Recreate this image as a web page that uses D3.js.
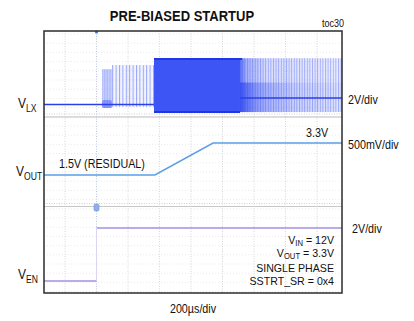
<!DOCTYPE html>
<html><head><meta charset="utf-8">
<script src="https://cdn.jsdelivr.net/npm/d3@7"></script>
<style>html,body{margin:0;padding:0;background:#fff;} svg{display:block;font-family:"Liberation Sans",Arial,sans-serif;}</style>
</head><body><svg id="c" width="414" height="321"></svg>
<script>
// ---------- data ----------
const timeDomain = [-400, 1600];            // µs, trigger at 0, 200 µs/div
const gridTimes  = [-200, 0, 200, 400, 600, 800, 1000, 1200, 1400];
// VLX switching bursts (V)
const lxBurstStart = [35, 98, 365, 911];
const lxBurstEnd   = [98, 365, 911, 1600];
const lxBurstHigh  = [9.3, 10.4, 12.0, 12.2];
const lxBurstLow   = [-0.9, -0.6, -2.0, -2.0];
// VLX quiet trace (two pieces: before and after the dense block)
const lxBaseT = [-400, 365, 911, 1600];
const lxBaseV = [0, 0, 1.7, 1.7];
// VOUT (V)
const outT = [-400, 371, 740, 1600];
const outV = [1.5, 1.5, 3.3, 3.3];
// VEN (V)
const enT = [-400, 0, 0, 1600];
const enV = [0, 0, 3.3, 3.3];

// ---------- layout ----------
const svg = d3.select("#c");
const L = 44, R = 342, T = 31, B = 293;
const x = d3.scaleLinear().domain(timeDomain).range([33.5, 348.5]);
const yLX  = d3.scaleLinear().domain([0, 12]).range([104.5, 59]);
const yOut = d3.scaleLinear().domain([1.5, 3.3]).range([175, 143]);
const yEn  = d3.scaleLinear().domain([0, 3.3]).range([281, 228]);

const defs = svg.append("defs");
defs.append("clipPath").attr("id", "clip").append("rect")
  .attr("x", L).attr("y", T).attr("width", R - L).attr("height", B - T);
function linePattern(id, w, color, op) {
  const p = defs.append("pattern").attr("id", id).attr("patternUnits", "userSpaceOnUse")
    .attr("width", w).attr("height", 10);
  p.append("rect").attr("x", 0).attr("y", 0).attr("width", 1).attr("height", 10)
    .attr("fill", color).attr("fill-opacity", op);
}
linePattern("pSparse", 3.4, "#4a62f2", 0.55);
linePattern("pFade", 2.6, "#4a62f2", 0.45);
linePattern("pBurst1", 1.6, "#6c82f5", 0.35);
const gFade = defs.append("linearGradient").attr("id", "gFade");
[[0, 0.85], [0.06, 0.45], [0.25, 0.18], [1, 0.08]].forEach(([o, a]) =>
  gFade.append("stop").attr("offset", o).attr("stop-color", "#3d55f5").attr("stop-opacity", a));
const gLow = defs.append("linearGradient").attr("id", "gLow");
[[0, 0.75], [0.15, 0.35], [0.5, 0.12], [1, 0.05]].forEach(([o, a]) =>
  gLow.append("stop").attr("offset", o).attr("stop-color", "#2f48f0").attr("stop-opacity", a));

const plot = svg.append("g").attr("clip-path", "url(#clip)");

// faint scope grid
const hRows = d3.range(T + 3, B, 9.2);
plot.selectAll("line.h").data(hRows).enter().append("line")
  .attr("x1", L).attr("x2", R).attr("y1", d => d).attr("y2", d => d)
  .attr("stroke", "#ebebeb").attr("stroke-width", 1).attr("stroke-dasharray", "1,2");
plot.selectAll("line.v").data(gridTimes).enter().append("line")
  .attr("x1", d => x(d)).attr("x2", d => x(d)).attr("y1", T).attr("y2", B)
  .attr("stroke", d => d === 0 ? "#b9c4dc" : "#d6d6d6").attr("stroke-width", 1)
  .attr("stroke-dasharray", "1,1.5");
// panel separators
[[114, "#cfcfcf", "1,1.5"], [117, "#bdbdbd", null], [203.5, "#cfcfcf", "1,1.5"], [206.5, "#c8c8c8", null]]
  .forEach(([yy, c, da]) => plot.append("line").attr("x1", L).attr("x2", R).attr("y1", yy).attr("y2", yy)
    .attr("stroke", c).attr("stroke-width", 1).attr("stroke-dasharray", da));

// ---------- VLX ----------
const bursts = lxBurstStart.map((s, i) => ({ s, e: lxBurstEnd[i], hi: lxBurstHigh[i], lo: lxBurstLow[i] }));
const bx = d => x(d.s), bw = d => x(d.e) - x(d.s), by = d => yLX(d.hi), bh = d => yLX(d.lo) - yLX(d.hi);
const fills = ["rgba(90,110,250,0.28)", "rgba(90,110,250,0.08)", "#3d55f5", "url(#gFade)"];
plot.selectAll("rect.burst").data(bursts).enter().append("rect")
  .attr("x", bx).attr("y", by).attr("width", bw).attr("height", bh)
  .attr("fill", (d, i) => fills[i]);
const overlays = ["url(#pBurst1)", "url(#pSparse)", null, "url(#pFade)"];
plot.selectAll("rect.ov").data(bursts).enter().append("rect")
  .attr("x", bx).attr("y", by).attr("width", bw).attr("height", bh)
  .attr("fill", (d, i) => overlays[i] || "none");
// ringing band after block (lower half)
const fb = bursts[3];
plot.append("rect").attr("x", x(fb.s)).attr("width", x(fb.e) - x(fb.s))
  .attr("y", yLX(5.8)).attr("height", yLX(fb.lo) - yLX(5.8)).attr("fill", "url(#gLow)");
// dense block edges
const db = bursts[2];
plot.append("line").attr("x1", x(db.s)).attr("x2", x(db.e) + 2).attr("y1", yLX(db.hi)).attr("y2", yLX(db.hi))
  .attr("stroke", "#2036e0").attr("stroke-width", 2);
plot.append("line").attr("x1", x(db.s)).attr("x2", x(db.e)).attr("y1", yLX(db.lo)).attr("y2", yLX(db.lo))
  .attr("stroke", "#2036e0").attr("stroke-width", 2);
// blob at start of burst 1
const b1 = bursts[0];
plot.append("rect").attr("x", x(b1.s)).attr("width", x(b1.e) - x(b1.s))
  .attr("y", yLX(1.2)).attr("height", yLX(b1.lo) - yLX(1.2)).attr("rx", 2)
  .attr("fill", "#3d55f5").attr("fill-opacity", 0.45);
// quiet trace
const lxLine = d3.line().x(d => x(d[0])).y(d => yLX(d[1]));
[[0, 1], [2, 3]].forEach(([a, b]) =>
  plot.append("path").attr("d", lxLine([[lxBaseT[a], lxBaseV[a]], [lxBaseT[b], lxBaseV[b]]]))
    .attr("fill", "none").attr("stroke", "#2a40e6").attr("stroke-width", 1.6));

// ---------- VOUT ----------
plot.append("path").datum(outT.map((t, i) => [t, outV[i]]))
  .attr("d", d3.line().x(d => x(d[0])).y(d => yOut(d[1])))
  .attr("fill", "none").attr("stroke", "#5b9fe8").attr("stroke-width", 1.5);

// ---------- VEN ----------
const enLine = d3.line().x(d => x(d[0])).y(d => yEn(d[1]));
[[0, 1], [2, 3]].forEach(([a, b]) =>
  plot.append("path").attr("d", enLine([[enT[a], enV[a]], [enT[b], enV[b]]]))
    .attr("fill", "none").attr("stroke", "#a48fe0").attr("stroke-width", 1.6));
plot.append("path").attr("d", enLine([[enT[1], enV[1]], [enT[2], enV[2]]]))
  .attr("fill", "none").attr("stroke", "#ddd4f3").attr("stroke-width", 1);

// trigger markers
svg.append("circle").attr("cx", x(0)).attr("cy", T + 1).attr("r", 1.6).attr("fill", "#3d7be0");
svg.append("rect").attr("x", x(0) - 2.5).attr("y", 204).attr("width", 5).attr("height", 7).attr("rx", 1.5)
  .attr("fill", "#8fb0e6").attr("stroke", "#6f92d8").attr("stroke-width", 0.6);

// frame
svg.append("rect").attr("x", L).attr("y", T).attr("width", R - L).attr("height", B - T)
  .attr("fill", "none").attr("stroke", "#2b2b2b").attr("stroke-width", 1.5);

// ---------- text ----------
function label(px, py, parts, o = {}) {
  const g = svg.append("g").attr("transform", `translate(${px},${py}) scale(${o.sx || 0.86},1)`);
  const t = g.append("text").attr("text-anchor", o.anchor || "start")
    .attr("font-size", o.size || 12.5).attr("font-weight", o.weight || "normal").attr("fill", "#111");
  let back = 0;
  parts.forEach(p => {
    if (typeof p === "string") {
      t.append("tspan").attr("dy", -back).text(p); back = 0;
    } else {
      t.append("tspan").attr("dy", p.dy - back).attr("font-size", p.size).text(p.sub); back = p.dy;
    }
  });
}
label(182, 21, ["PRE-BIASED STARTUP"], { anchor: "middle", size: 15.5, weight: "bold", sx: 0.84 });
label(333, 27, ["toc30"], { anchor: "middle", size: 10, sx: 0.9 });
label(18, 108, ["V", { sub: "LX", size: 10, dy: 4 }], { size: 14 });
label(348, 104, ["2V/div"]);
label(306, 137, ["3.3V"]);
label(348, 149, ["500mV/div"]);
label(59, 168, ["1.5V (RESIDUAL)"]);
label(16, 176, ["V", { sub: "OUT", size: 10, dy: 4 }], { size: 14 });
label(352, 233, ["2V/div"]);
label(334, 243.5, ["V", { sub: "IN", size: 8.5, dy: 2.5 }, " = 12V"], { anchor: "end", size: 11.8, sx: 0.9 });
label(334, 256.5, ["V", { sub: "OUT", size: 8.5, dy: 2.5 }, " = 3.3V"], { anchor: "end", size: 11.8, sx: 0.9 });
label(334, 272, ["SINGLE PHASE"], { anchor: "end", size: 11.8, sx: 0.9 });
label(334, 284.5, ["SSTRT_SR = 0x4"], { anchor: "end", size: 11.8, sx: 0.9 });
label(18, 279, ["V", { sub: "EN", size: 10, dy: 4 }], { size: 14 });
label(193, 313, ["200µs/div"], { anchor: "middle" });
</script></body></html>
